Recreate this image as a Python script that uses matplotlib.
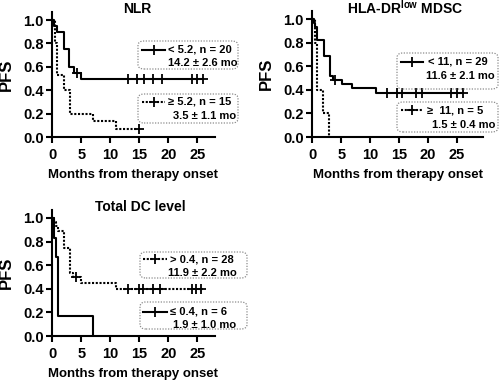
#!/usr/bin/env python3
"""
Kaplan-Meier style PFS curves for three biomarker splits
(NLR, HLA-DR low MDSC, total DC level).
"""

import matplotlib
matplotlib.use("Agg")
import matplotlib.pyplot as plt
from matplotlib.lines import Line2D
from matplotlib.patches import FancyBboxPatch

plt.rcParams["font.family"] = ["Liberation Sans", "DejaVu Sans"]
plt.rcParams["font.weight"] = "bold"
plt.rcParams["mathtext.fontset"] = "custom"
plt.rcParams["mathtext.rm"] = "Liberation Sans:bold"
plt.rcParams["mathtext.bf"] = "Liberation Sans:bold"

# ---- data (months, PFS fraction) ----
# NLR
nlr_lo_t = [0, 0.3, 0.8, 2.0, 2.9, 3.8, 4.9]
nlr_lo_s = [1.0, 0.95, 0.9, 0.75, 0.6, 0.55, 0.5]
nlr_lo_end = 26.0
nlr_lo_cens = [4.2, 13.0, 14.6, 15.8, 17.4, 18.9, 24.0, 25.0, 26.0]

nlr_hi_t = [0, 0.4, 0.8, 2.0, 3.0, 7.0, 11.0]
nlr_hi_s = [1.0, 0.8, 0.533, 0.4, 0.2, 0.133, 0.067]
nlr_hi_end = 15.0
nlr_hi_cens = [15.0]

# HLA-DR low MDSC
mdsc_lo_t = [0, 0.3, 0.5, 0.8, 2.0, 3.0, 3.6, 5.1, 6.9, 11.0]
mdsc_lo_s = [1.0, 0.966, 0.931, 0.828, 0.69, 0.517, 0.483, 0.448, 0.414, 0.375]
mdsc_lo_end = 26.0
mdsc_lo_cens = [3.9, 13.0, 14.7, 15.6, 18.0, 18.9, 24.0, 25.0, 26.0]

mdsc_hi_t = [0, 0.5, 0.8, 1.8, 2.9]
mdsc_hi_s = [1.0, 0.8, 0.4, 0.2, 0.0]
mdsc_hi_end = 2.9
mdsc_hi_cens = []

# Total DC level
dc_hi_t = [0, 0.3, 0.6, 1.0, 2.0, 3.0, 3.5, 4.9, 11.0]
dc_hi_s = [1.0, 0.964, 0.929, 0.893, 0.745, 0.536, 0.5, 0.446, 0.40]
dc_hi_end = 26.0
dc_hi_cens = [4.1, 13.0, 15.0, 15.6, 17.4, 18.6, 24.0, 24.8, 25.6]

dc_lo_t = [0, 0.3, 0.7, 1.0, 7.0]
dc_lo_s = [1.0, 0.833, 0.667, 0.167, 0.0]
dc_lo_end = 7.0
dc_lo_cens = []

W, H = 500, 381
DOTTED = (0, (1.0, 0.8))


def fx(px):
    return px / W


def fy(py):
    return 1 - py / H


def km(ax, t, s, end, cens, ls):
    xs = list(t) + [end]
    ys = list(s) + [s[-1]]
    ax.step(xs, ys, where="post", color="black", lw=1.5, ls=ls,
            solid_capstyle="butt")
    if cens:
        cy = []
        for c in cens:
            idx = max(i for i, tt in enumerate(t) if tt <= c)
            cy.append(s[idx])
        ax.plot(cens, cy, ls="none", marker="+", ms=7, mew=1.3,
                color="black")


def style_axis(ax, xmax, title, title_x):
    ax.set_xlim(0, xmax)
    ax.set_ylim(0, 1.07)
    ax.set_xticks([0, 5, 10, 15, 20, 25])
    ax.set_yticks([0, 0.2, 0.4, 0.6, 0.8, 1.0])
    ax.set_yticklabels(["0.0", "0.2", "0.4", "0.6", "0.8", "1.0"])
    for side in ("top", "right"):
        ax.spines[side].set_visible(False)
    for side in ("left", "bottom"):
        ax.spines[side].set_linewidth(1.5)
    ax.tick_params(width=1.5, length=4, labelsize=10.5)
    ax.tick_params(axis="x", pad=4)
    ax.tick_params(axis="y", pad=2)
    ax.text(title_x, 1.025, title, transform=ax.transAxes, ha="center",
            va="center", fontsize=10, fontweight="bold")
    ax.set_xlabel("Months from therapy onset", fontsize=9.5,
                  fontweight="bold", labelpad=5)
    ax.set_ylabel("PFS", fontsize=12, fontweight="bold", labelpad=7)


def legend_box(fig, box, line_y, sample, ls, lines):
    x0, y0, x1, y1 = box
    patch = FancyBboxPatch((fx(x0), fy(y1)), fx(x1) - fx(x0), fy(y0) - fy(y1),
                           boxstyle="round,pad=0,rounding_size=0.012",
                           transform=fig.transFigure, fill=False,
                           ec="#8c8c8c", lw=0.9, ls=(0, (1, 1.2)))
    fig.add_artist(patch)
    sx0, sx1 = sample
    fig.add_artist(Line2D([fx(sx0), fx(sx1)], [fy(line_y), fy(line_y)],
                          transform=fig.transFigure, color="black",
                          lw=1.5, ls=ls))
    fig.add_artist(Line2D([fx((sx0 + sx1) / 2)], [fy(line_y)],
                          transform=fig.transFigure, color="black",
                          marker="+", ms=7, mew=1.3, ls="none"))
    for tx, ty, txt in lines:
        fig.text(fx(tx), fy(ty), txt, fontsize=8, fontweight="bold",
                 ha="left", va="center")


fig = plt.figure(figsize=(W / 100, H / 100), dpi=100)

ax1 = fig.add_axes([0.1046, 0.6404, 0.3248, 0.3286])
km(ax1, nlr_lo_t, nlr_lo_s, nlr_lo_end, nlr_lo_cens, "-")
km(ax1, nlr_hi_t, nlr_hi_s, nlr_hi_end, nlr_hi_cens, DOTTED)
style_axis(ax1, 28, "NLR", 0.526)

ax2 = fig.add_axes([0.6246, 0.6404, 0.341, 0.3307])
km(ax2, mdsc_lo_t, mdsc_lo_s, mdsc_lo_end, mdsc_lo_cens, "-")
km(ax2, mdsc_hi_t, mdsc_hi_s, mdsc_hi_end, mdsc_hi_cens, DOTTED)
style_axis(ax2, 29.5, r"HLA-DR$^{\mathrm{low}}$ MDSC", 0.544)

ax3 = fig.add_axes([0.1046, 0.1181, 0.3248, 0.3315])
km(ax3, dc_hi_t, dc_hi_s, dc_hi_end, dc_hi_cens, DOTTED)
km(ax3, dc_lo_t, dc_lo_s, dc_lo_end, dc_lo_cens, "-")
style_axis(ax3, 28, "Total DC level", 0.54)

# legend boxes (pixel layout)
legend_box(fig, (138, 41, 238, 69), 50, (142, 165), "-",
           [(168, 50, "< 5.2, n = 20"), (168, 63, "14.2 \u00b1 2.6 mo")])
legend_box(fig, (138, 94, 238, 123), 102, (142, 165), DOTTED,
           [(168, 102, "\u2265 5.2, n = 15"), (173, 116, "3.5 \u00b1 1.1 mo")])
legend_box(fig, (397, 53, 498, 89), 62, (401, 423), "-",
           [(428, 62, "< 11, n = 29"), (426, 76, "11.6 \u00b1 2.1 mo")])
legend_box(fig, (397, 102, 498, 132), 110, (401, 423), DOTTED,
           [(427, 110, "\u2265  11, n = 5"), (432, 125, "1.5 \u00b1 0.4 mo")])
legend_box(fig, (140, 252, 247, 278), 259, (143, 167), DOTTED,
           [(170, 259, "> 0.4, n = 28"), (168, 273, "11.9 \u00b1 2.2 mo")])
legend_box(fig, (140, 302, 247, 329), 312, (143, 167), "-",
           [(170, 312, "\u2264 0.4, n = 6"), (173, 325, "1.9 \u00b1 1.0 mo")])

fig.savefig("out.png", dpi=100)
